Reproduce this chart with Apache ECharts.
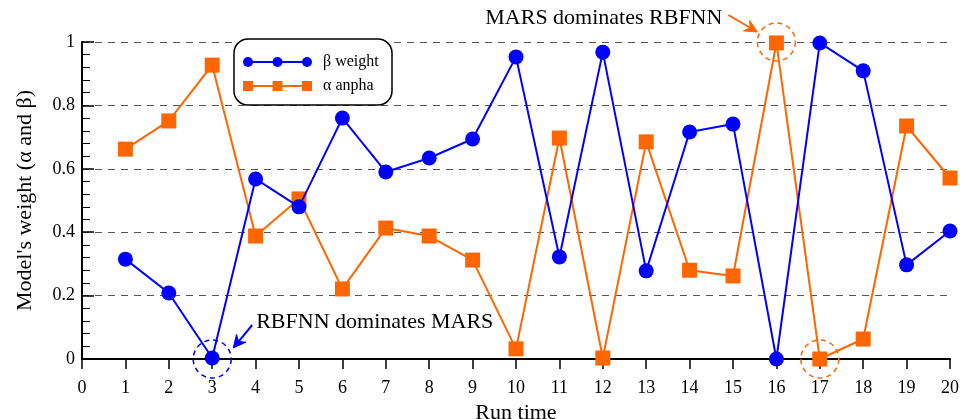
<!DOCTYPE html>
<html><head><meta charset="utf-8">
<script src="https://cdn.jsdelivr.net/npm/echarts@6/dist/echarts.min.js"></script>
<style>html,body{margin:0;padding:0;background:#fff}#c{width:968px;height:419px}</style>
</head><body><div id="c"></div>
<script>
const runs = [1,2,3,4,5,6,7,8,9,10,11,12,13,14,15,16,17,18,19,20];
const betaWeight = [0.315,0.208,0.003,0.568,0.48,0.76,0.59,0.634,0.694,0.953,0.322,0.968,0.278,0.716,0.741,0.0,0.997,0.909,0.297,0.404];
const alphaWeight = [0.662,0.751,0.927,0.388,0.505,0.221,0.413,0.388,0.312,0.032,0.697,0.003,0.685,0.28,0.262,0.997,0.0,0.063,0.735,0.571];
const yTicks = [0,0.2,0.4,0.6,0.8,1];
const seriesNames = ['β weight','α anpha'];
const FONT = 'Liberation Serif';
const BLUE = '#0000ff', ORANGE = '#ff6600';

const chart = echarts.init(document.getElementById('c'), null, {renderer:'canvas'});
const pairs = (ys) => runs.map((x,i)=>[x,ys[i]]);
const option = {
  animation:false,
  backgroundColor:'#fff',
  textStyle:{fontFamily:FONT},
  grid:{left:82,right:18,top:42,bottom:60,containLabel:false,outerBoundsMode:'none'},
  xAxis:{type:'value',min:0,max:20,interval:1,
    name:'Run time',nameLocation:'middle',nameGap:37,
    nameTextStyle:{fontFamily:FONT,fontSize:22,color:'#000'},
    axisLine:{show:true,lineStyle:{color:'#000',width:2}},
    axisTick:{show:true,inside:false,length:10,lineStyle:{color:'#000',width:1.5}},
    axisLabel:{fontFamily:FONT,fontSize:18,color:'#000',margin:20},
    splitLine:{show:false}},
  yAxis:{type:'value',min:0,max:1,interval:0.2,
    name:"Model's weight (α and β)",nameLocation:'middle',nameGap:46,
    nameTextStyle:{fontFamily:FONT,fontSize:22,color:'#000'},
    axisLine:{show:true,lineStyle:{color:'#000',width:2}},
    axisTick:{show:true,inside:true,length:12,lineStyle:{color:'#000',width:1.5}},
    minorTick:{show:true,splitNumber:5,length:8,lineStyle:{color:'#000',width:1}},
    axisLabel:{fontFamily:FONT,fontSize:18,color:'#000',margin:7,
      formatter:(v)=>{const t=yTicks.find(k=>Math.abs(k-v)<1e-9);return t===undefined?'':String(t);}},
    splitLine:{show:true,lineStyle:{color:'#555',width:1.2,type:[7,6]}}},
  series:[
    {name:seriesNames[0],type:'line',data:pairs(betaWeight),symbol:'circle',symbolSize:15,
     lineStyle:{color:BLUE,width:2},itemStyle:{color:BLUE},z:3,
     markPoint:{symbol:'circle',symbolSize:38,silent:true,label:{show:false},
       itemStyle:{color:'rgba(0,0,0,0)',borderColor:BLUE,borderWidth:1.5,borderType:[5,4]},
       data:[{coord:[3,0]}]}},
    {name:seriesNames[1],type:'line',data:pairs(alphaWeight),symbol:'rect',symbolSize:15,
     lineStyle:{color:ORANGE,width:2},itemStyle:{color:ORANGE},z:2,
     markPoint:{symbol:'circle',symbolSize:38,silent:true,label:{show:false},
       itemStyle:{color:'rgba(0,0,0,0)',borderColor:ORANGE,borderWidth:1.5,borderType:[5,4]},
       data:[{coord:[16,1]},{coord:[17,0]}]}}
  ]
};
chart.setOption(option);

function arrow(x1,y1,x2,y2,color){
  const ang=Math.atan2(y2-y1,x2-x1), L=14, w=0.45;
  const p1=[x2-L*Math.cos(ang-w),y2-L*Math.sin(ang-w)];
  const p2=[x2-L*Math.cos(ang+w),y2-L*Math.sin(ang+w)];
  const pm=[x2-L*0.6*Math.cos(ang),y2-L*0.6*Math.sin(ang)];
  return [
    {type:'line',shape:{x1:x1,y1:y1,x2:pm[0],y2:pm[1]},style:{stroke:color,lineWidth:2}},
    {type:'polygon',shape:{points:[p1,[x2,y2],p2,pm]},style:{fill:color,stroke:color,lineWidth:1}}
  ];
}
const b3 = chart.convertToPixel({gridIndex:0},[3,0]);
const o16 = chart.convertToPixel({gridIndex:0},[16,1]);
const g = [];
// legend
const lx=234, ly=39;
g.push({type:'rect',shape:{x:lx,y:ly,width:158,height:66,r:14},style:{fill:'#fff',stroke:'#000',lineWidth:1.5},z:10});
g.push({type:'line',shape:{x1:lx+14,y1:ly+23,x2:lx+73,y2:ly+23},style:{stroke:BLUE,lineWidth:2},z:11});
[lx+14,lx+43.5,lx+73].forEach(x=>g.push({type:'circle',shape:{cx:x,cy:ly+23,r:5},style:{fill:BLUE},z:11}));
g.push({type:'text',x:lx+89,y:ly+23,style:{text:seriesNames[0],font:'16px "Liberation Serif"',fill:'#000',verticalAlign:'middle'},z:11});
g.push({type:'line',shape:{x1:lx+14,y1:ly+47,x2:lx+73,y2:ly+47},style:{stroke:ORANGE,lineWidth:2},z:11});
[lx+14,lx+43.5,lx+73].forEach(x=>g.push({type:'rect',shape:{x:x-5,y:ly+42,width:10,height:10},style:{fill:ORANGE},z:11}));
g.push({type:'text',x:lx+89,y:ly+47,style:{text:seriesNames[1],font:'16px "Liberation Serif"',fill:'#000',verticalAlign:'middle'},z:11});
// annotations
g.push({type:'text',x:b3[0]+44,y:b3[1]-37,style:{text:'RBFNN dominates MARS',font:'22px "Liberation Serif"',fill:'#000',verticalAlign:'middle'},z:11});
arrow(b3[0]+40,b3[1]-34,b3[0]+21,b3[1]-11,BLUE).forEach(e=>{e.z=11;g.push(e);});
g.push({type:'text',x:o16[0]-54,y:o16[1]-24,style:{text:'MARS dominates RBFNN',font:'22px "Liberation Serif"',fill:'#000',align:'right',verticalAlign:'middle'},z:11});
arrow(o16[0]-48,o16[1]-27,o16[0]-19,o16[1]-10,ORANGE).forEach(e=>{e.z=11;g.push(e);});
chart.setOption({graphic:{elements:g}});
</script></body></html>
